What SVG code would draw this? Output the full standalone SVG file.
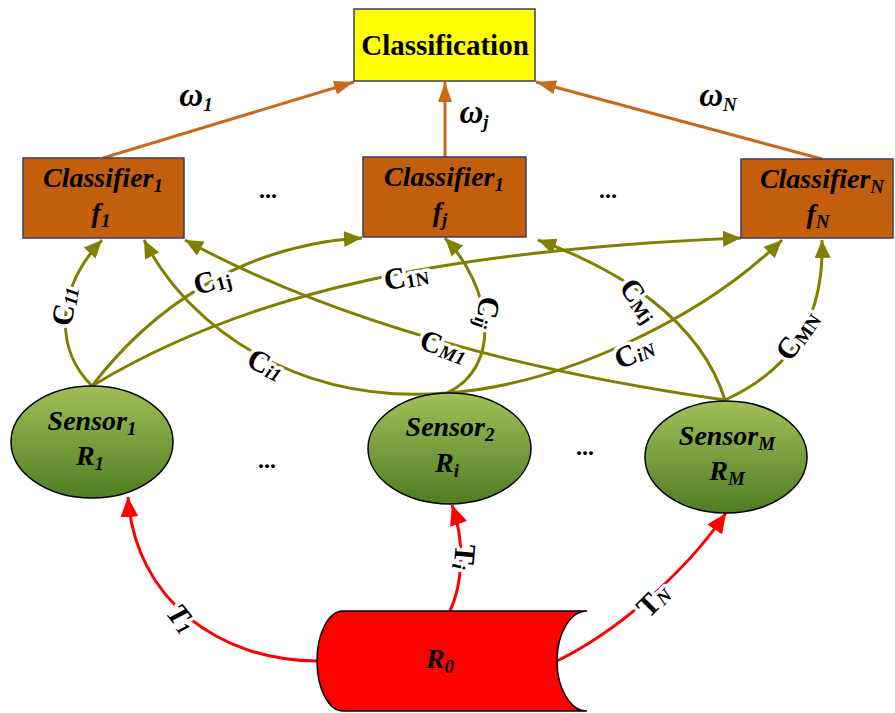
<svg xmlns="http://www.w3.org/2000/svg" width="895" height="713" viewBox="0 0 895 713">
  <defs>
    <linearGradient id="gSensor" x1="0" y1="0" x2="0" y2="1">
      <stop offset="0" stop-color="#a2bf59"/>
      <stop offset="1" stop-color="#4f7d22"/>
    </linearGradient>
    <marker id="aOlive" markerUnits="userSpaceOnUse" markerWidth="20" markerHeight="18" refX="18" refY="8" orient="auto">
      <path d="M0,0 L18,8 L0,16 Z" fill="#808000"/>
    </marker>
    <marker id="aOrange" markerUnits="userSpaceOnUse" markerWidth="22" markerHeight="16" refX="20" refY="7" orient="auto">
      <path d="M0,0 L20,7 L0,14 Z" fill="#c96a1b"/>
    </marker>
    <marker id="aRed" markerUnits="userSpaceOnUse" markerWidth="22" markerHeight="20" refX="20" refY="9" orient="auto">
      <path d="M0,0 L20,9 L0,18 Z" fill="#ff0000"/>
    </marker>
  </defs>
  <style>
    .olive { fill: none; stroke: #808000; stroke-width: 3; marker-end: url(#aOlive); }
    .orange { fill: none; stroke: #c96a1b; stroke-width: 3; marker-end: url(#aOrange); }
    .red { fill: none; stroke: #ff0000; stroke-width: 3; marker-end: url(#aRed); }
    .lbl { font-family: "Liberation Serif", "Times New Roman", serif; font-weight: bold; font-size: 30px;
           text-anchor: middle; dominant-baseline: central; fill: #000;
           paint-order: stroke; stroke: #fff; stroke-width: 7px; stroke-linejoin: round; }
    .sub { font-size: 19px; }
    .it { font-style: italic; }
    .w { font-family: "Liberation Serif", "Times New Roman", serif; font-weight: bold; font-style: italic;
         font-size: 33px; text-anchor: middle; fill: #000; }
    .node { font-family: "Liberation Serif", "Times New Roman", serif; font-weight: bold; font-style: italic;
            font-size: 28px; text-anchor: middle; fill: #000; }
    .box { fill: #c25e0c; stroke: #3c3c64; stroke-width: 1.5; }
    .sensor { fill: url(#gSensor); stroke: #000; stroke-width: 1.5; }
    .dots { font-family: "Liberation Serif", serif; font-weight: bold; font-size: 24px; text-anchor: middle; fill: #000; }
  </style>

  <rect width="895" height="713" fill="#fff"/>

  <!-- connectors -->
  <g id="connectors">
    <!-- classifier outputs to the fusion box -->
    <line class="orange" x1="103" y1="158" x2="354" y2="82"/>
    <line class="orange" x1="445" y1="157" x2="445" y2="82"/>
    <line class="orange" x1="822" y1="159" x2="536" y2="82"/>

    <!-- source to sensors -->
    <path class="red" d="M317,661 C220,661 135,600 128,497"/>
    <path class="red" d="M450,611 C462,585 466,545 452,505"/>
    <path class="red" d="M557,661 C610,635 680,580 726,513"/>

    <!-- sensor 1 -->
    <path class="olive" d="M92,386 C55,350 55,290 102,240"/>
    <path class="olive" d="M92,386 C150,310 240,245 362,238"/>
    <path class="olive" d="M92,386 C250,290 450,250 741,238"/>
    <!-- sensor i -->
    <path class="olive" d="M447,393 C300,405 190,330 144,240"/>
    <path class="olive" d="M447,393 C505,365 490,285 445,238"/>
    <path class="olive" d="M447,393 C560,385 700,320 782,240"/>
    <!-- sensor M -->
    <path class="olive" d="M725,400 C550,375 350,330 185,240"/>
    <path class="olive" d="M725,400 C700,320 620,270 538,240"/>
    <path class="olive" d="M725,400 C780,375 825,330 822,240"/>

    <!-- connector labels -->
    <text class="w" x="196" y="106">ω<tspan class="sub" dy="5">1</tspan></text>
    <text class="w" x="474" y="123">ω<tspan class="sub" dy="5">j</tspan></text>
    <text class="w" x="718" y="106">ω<tspan class="sub" dy="5">N</tspan></text>

    <text class="lbl" transform="translate(64,306) rotate(-80)">C<tspan class="sub it" dy="5">11</tspan></text>
    <text class="lbl" transform="translate(212,280) rotate(-15)">C<tspan class="sub" dy="5">1j</tspan></text>
    <text class="lbl" transform="translate(406,276) rotate(-10)">C<tspan class="sub" dy="5">1N</tspan></text>
    <text class="lbl" transform="translate(266,364) rotate(25)">C<tspan class="sub it" dy="5">i1</tspan></text>
    <text class="lbl" transform="translate(488,313) rotate(100)">C<tspan class="sub it" dy="5">ij</tspan></text>
    <text class="lbl" transform="translate(634,352) rotate(-25)">C<tspan class="sub it" dy="5">iN</tspan></text>
    <text class="lbl" transform="translate(444,346) rotate(20)">C<tspan class="sub it" dy="5">M1</tspan></text>
    <text class="lbl" transform="translate(640,300) rotate(55)">C<tspan class="sub" dy="5">Mj</tspan></text>
    <text class="lbl" transform="translate(797,335) rotate(-55)">C<tspan class="sub" dy="5">MN</tspan></text>

    <text class="lbl it" transform="translate(182,618) rotate(52)">T<tspan class="sub" dy="5">1</tspan></text>
    <text class="lbl" transform="translate(465,557) rotate(95)">T<tspan class="sub it" dy="5">i</tspan></text>
    <text class="lbl" transform="translate(653,600) rotate(-45)">T<tspan class="sub it" dy="5">N</tspan></text>
  </g>

  <!-- fusion node -->
  <g id="classification">
    <rect x="354" y="9" width="181" height="72" fill="#ffff00" stroke="#3c3c64" stroke-width="1.5"/>
    <text x="445" y="55" font-family="Liberation Serif, Times New Roman, serif" font-weight="bold" font-size="29" text-anchor="middle">Classification</text>
  </g>

  <!-- classifiers -->
  <g id="classifier1">
    <rect class="box" x="23" y="158" width="161" height="80"/>
    <text class="node" x="103" y="187">Classifier<tspan class="sub" dy="5">1</tspan></text>
    <text class="node" x="101" y="222">f<tspan class="sub" dy="5">1</tspan></text>
  </g>
  <g id="classifierj">
    <rect class="box" x="363" y="157" width="163" height="80"/>
    <text class="node" x="444" y="186">Classifier<tspan class="sub" dy="5">1</tspan></text>
    <text class="node" x="440" y="221">f<tspan class="sub" dy="5">j</tspan></text>
  </g>
  <g id="classifierN">
    <rect class="box" x="741" y="159" width="152" height="79"/>
    <text class="node" x="822" y="188">Classifier<tspan class="sub" dy="5">N</tspan></text>
    <text class="node" x="818" y="223">f<tspan class="sub" dy="5">N</tspan></text>
  </g>

  <!-- sensors -->
  <g id="sensor1">
    <ellipse class="sensor" cx="92" cy="442" rx="81" ry="56"/>
    <text class="node" x="92" y="430">Sensor<tspan class="sub" dy="5">1</tspan></text>
    <text class="node" x="90" y="465">R<tspan class="sub" dy="5">1</tspan></text>
  </g>
  <g id="sensor2">
    <ellipse class="sensor" cx="449.5" cy="448.5" rx="81.5" ry="55.5"/>
    <text class="node" x="450" y="436">Sensor<tspan class="sub" dy="5">2</tspan></text>
    <text class="node" x="447" y="472">R<tspan class="sub" dy="5">i</tspan></text>
  </g>
  <g id="sensorM">
    <ellipse class="sensor" cx="726" cy="457" rx="81" ry="56"/>
    <text class="node" x="727" y="445">Sensor<tspan class="sub" dy="5">M</tspan></text>
    <text class="node" x="727" y="480">R<tspan class="sub" dy="5">M</tspan></text>
  </g>

  <!-- source R0 (horizontal cylinder) -->
  <g id="source">
    <path d="M587,611 H343 A26,50 0 0 0 343,711 H587 A30,50 0 0 1 587,611 Z" fill="#ff0000" stroke="#000" stroke-width="1.5"/>
    <text class="node" x="440" y="668">R<tspan class="sub" dy="5">0</tspan></text>
  </g>

  <!-- ellipses between repeated elements -->
  <g id="ellipses">
    <text class="dots" x="268" y="198">...</text>
    <text class="dots" x="608" y="198">...</text>
    <text class="dots" x="267" y="468">...</text>
    <text class="dots" x="585" y="455">...</text>
  </g>
</svg>
